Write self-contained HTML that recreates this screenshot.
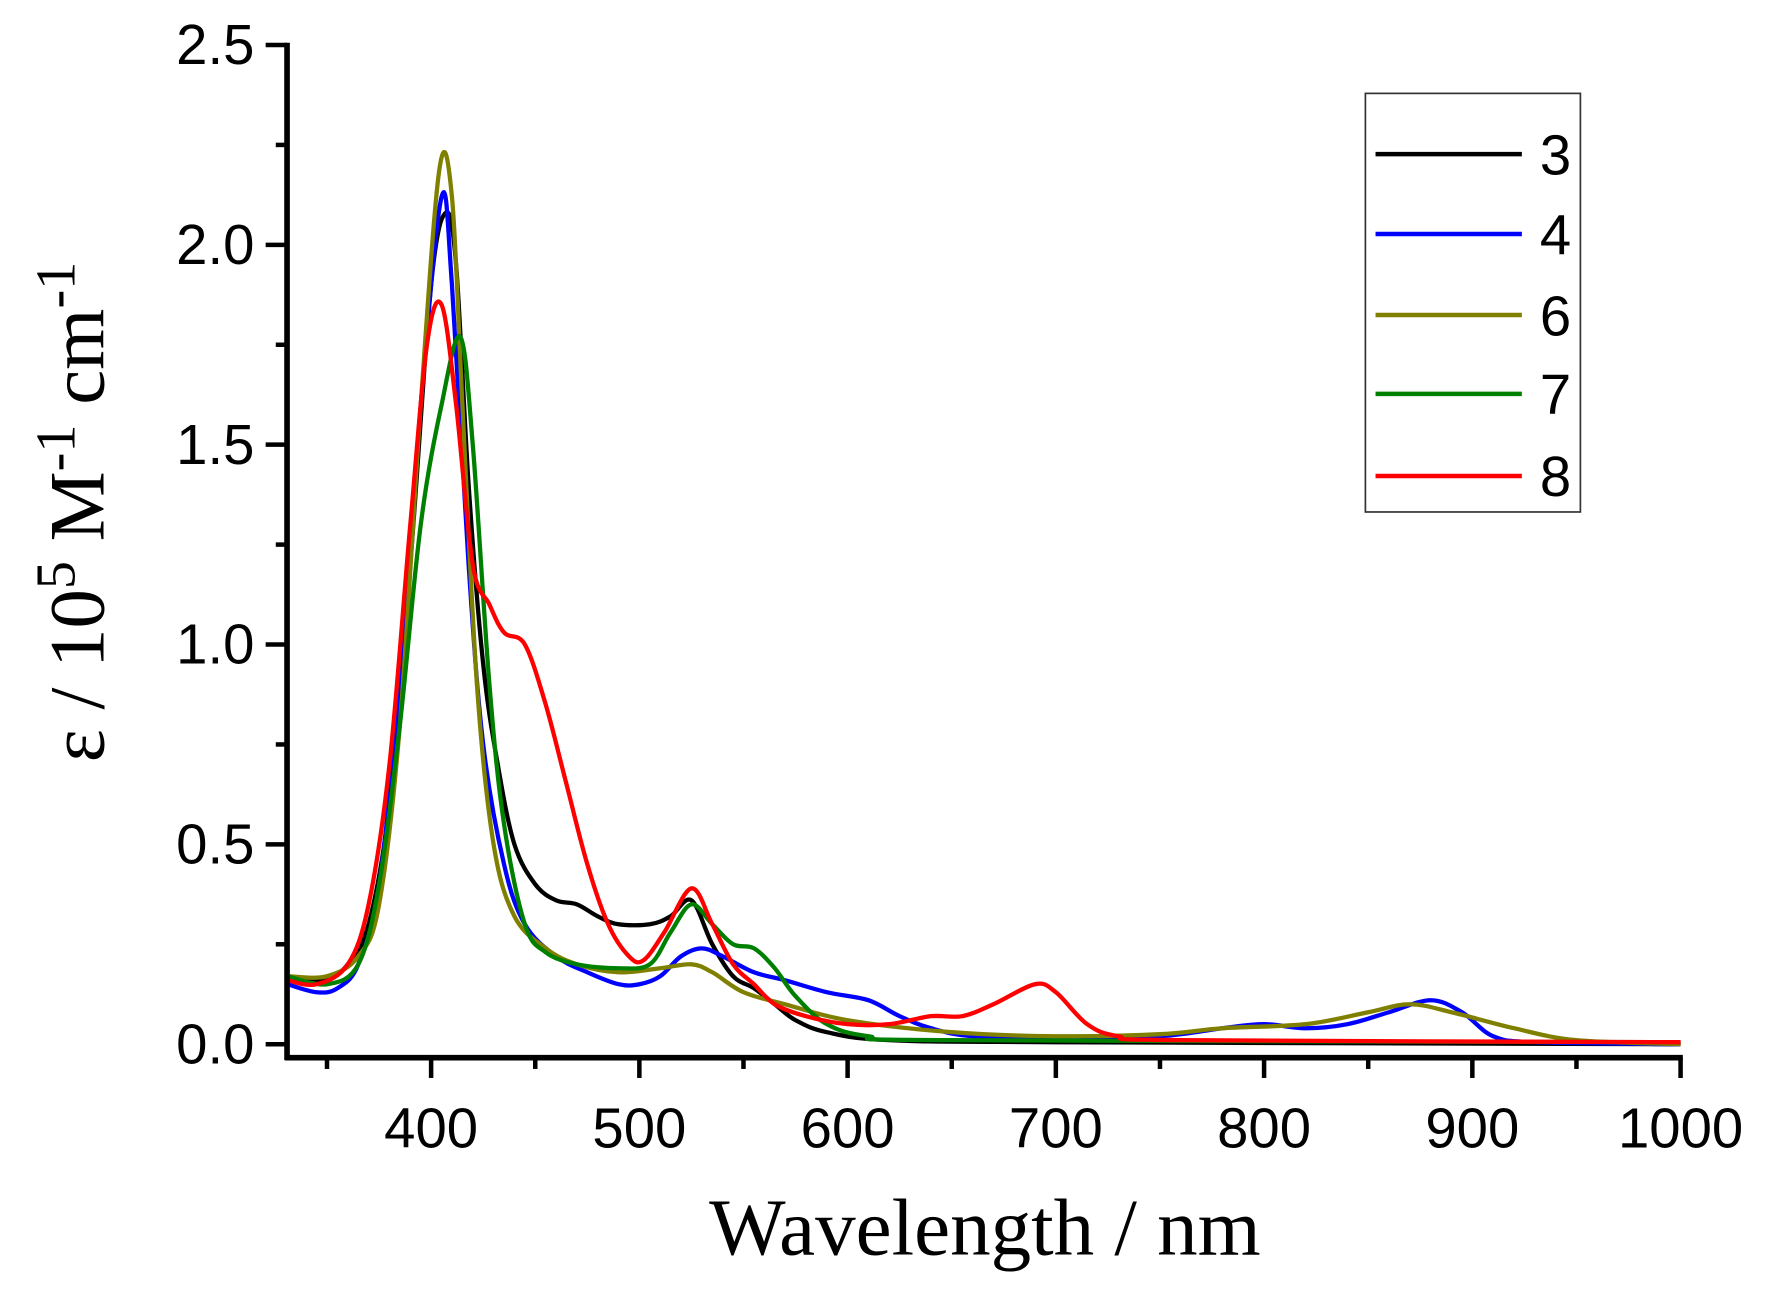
<!DOCTYPE html>
<html><head><meta charset="utf-8"><style>
html,body{margin:0;padding:0;background:#fff}
svg{display:block}
</style></head><body>
<svg id="s" width="1765" height="1294" viewBox="0 0 1568 1150" preserveAspectRatio="none" xmlns="http://www.w3.org/2000/svg">
<g id="curves" fill="none" stroke-width="3.8" stroke-linejoin="round"></g>
<g stroke="#000" stroke-width="5" fill="none">
<line x1="255" y1="38" x2="255" y2="942"/>
<line x1="253" y1="940" x2="1495" y2="940"/>
</g>
<g id="ticks" stroke="#000" stroke-width="4"></g>
<g font-family="Liberation Sans, sans-serif" font-size="50" fill="#000" id="labels"></g>
<text x="875" y="1115" text-anchor="middle" font-family="Liberation Serif, serif" font-size="72">Wavelength / nm</text>
<text transform="translate(92,455) rotate(-90)" text-anchor="middle" font-family="Liberation Serif, serif" font-size="70">ε / 10<tspan dy="-26" font-size="50">5</tspan><tspan dy="26"> M</tspan><tspan dy="-26" font-size="50">-1</tspan><tspan dy="26"> cm</tspan><tspan dy="-26" font-size="50">-1</tspan></text>
<rect x="1213" y="83" width="191" height="372" fill="none" stroke="#333" stroke-width="1.5"/>
<g id="legend" font-family="Liberation Sans, sans-serif" font-size="50"></g>
</svg>
<script>
var X=function(w){return 383+(w-400)*1.85;};
var Y=function(v){return 928-v*355.2;};
var NS="http://www.w3.org/2000/svg";
function el(p,t,a,txt){var e=document.createElementNS(NS,t);for(var k in a)e.setAttribute(k,a[k]);if(txt!==undefined)e.textContent=txt;p.appendChild(e);return e;}
var tk=document.getElementById('ticks'),lb=document.getElementById('labels');
for(var i=0;i<=10;i++){var v=i*0.25,y=Y(v);el(tk,'line',{x1:255,y1:y,x2:i%2?245:236,y2:y});
 if(i%2==0)el(lb,'text',{x:226,y:y+17,'text-anchor':'end'},v.toFixed(1));}
for(var w=350;w<=1000;w+=50){var x=X(w);el(tk,'line',{x1:x,y1:940,x2:x,y2:w%100?950:958});
 if(w%100==0)el(lb,'text',{x:x,y:1020,'text-anchor':'middle'},w);}
var D={
'#000':[331,.17,340,.16,350,.16,360,.2,370,.3,380,.6,390,1.2,400,1.9,407,2.08,412,1.95,418,1.4,425,.95,432,.7,440,.5,450,.4,460,.36,470,.35,480,.32,490,.3,505,.3,515,.32,525,.36,535,.25,545,.17,555,.14,565,.1,575,.06,590,.03,620,.01,700,.005,1000,0],
'#0000ff':[331,.15,345,.13,355,.14,365,.2,375,.4,385,.9,395,1.6,405,2.12,410,1.9,418,1.2,425,.75,435,.45,445,.3,460,.22,475,.18,490,.15,500,.15,510,.17,520,.22,530,.24,540,.22,555,.18,570,.16,590,.13,610,.11,625,.07,640,.04,660,.02,700,.015,750,.02,780,.04,800,.05,820,.04,840,.05,860,.08,880,.11,895,.08,910,.02,930,.005,1000,0],
'#808000':[331,.17,350,.17,365,.22,375,.35,385,.8,395,1.6,404,2.19,410,2.12,415,1.6,422,.9,430,.5,440,.32,455,.24,470,.2,490,.18,510,.19,525,.2,535,.18,550,.13,570,.1,600,.06,650,.03,700,.02,750,.025,780,.04,820,.05,850,.08,870,.1,890,.08,920,.04,950,.01,1000,0],
'#008000':[331,.17,350,.15,365,.2,375,.4,385,.8,395,1.3,405,1.6,414,1.77,420,1.5,428,.9,435,.55,445,.3,455,.23,470,.2,490,.19,505,.2,515,.28,525,.35,535,.3,545,.25,555,.24,565,.19,575,.12,590,.05,610,.02,650,.01,1000,.005],
'#ff0000':[331,.16,345,.15,360,.2,370,.35,380,.7,390,1.3,398,1.75,405,1.85,412,1.6,420,1.2,428,1.1,435,1.03,445,1.0,455,.85,465,.65,475,.45,485,.3,495,.22,502,.21,512,.28,525,.39,535,.3,545,.2,555,.15,565,.1,580,.07,600,.05,620,.05,640,.07,655,.07,670,.1,690,.15,700,.13,715,.05,730,.02,760,.01,1000,.005]};
var cg=document.getElementById('curves');
function smooth(P){var d='M'+P[0][0].toFixed(1)+','+P[0][1].toFixed(1);
 for(var i=0;i<P.length-1;i++){var p0=P[i-1]||P[i],p1=P[i],p2=P[i+1],p3=P[i+2]||p2;
  var c1x=p1[0]+(p2[0]-p0[0])/6,c1y=p1[1]+(p2[1]-p0[1])/6,c2x=p2[0]-(p3[0]-p1[0])/6,c2y=p2[1]-(p3[1]-p1[1])/6;
  d+=' C'+c1x.toFixed(1)+','+c1y.toFixed(1)+' '+c2x.toFixed(1)+','+c2y.toFixed(1)+' '+p2[0].toFixed(1)+','+p2[1].toFixed(1);}
 return d;}
for(var c in D){var a=D[c],pts=[];for(var j=0;j<a.length;j+=2)pts.push([X(a[j]),Y(a[j+1])]);
 el(cg,'path',{d:smooth(pts),stroke:c});}
var lg=document.getElementById('legend'),names=['3','4','6','7','8'],cols=['#000','#0000ff','#808000','#008000','#ff0000'],ys=[137,208,280,350,423];
for(var k=0;k<5;k++){el(lg,'line',{x1:1222,y1:ys[k],x2:1352,y2:ys[k],stroke:cols[k],'stroke-width':4});
 el(lg,'text',{x:1368,y:ys[k]+18},names[k]);}
</script>
</body></html>
